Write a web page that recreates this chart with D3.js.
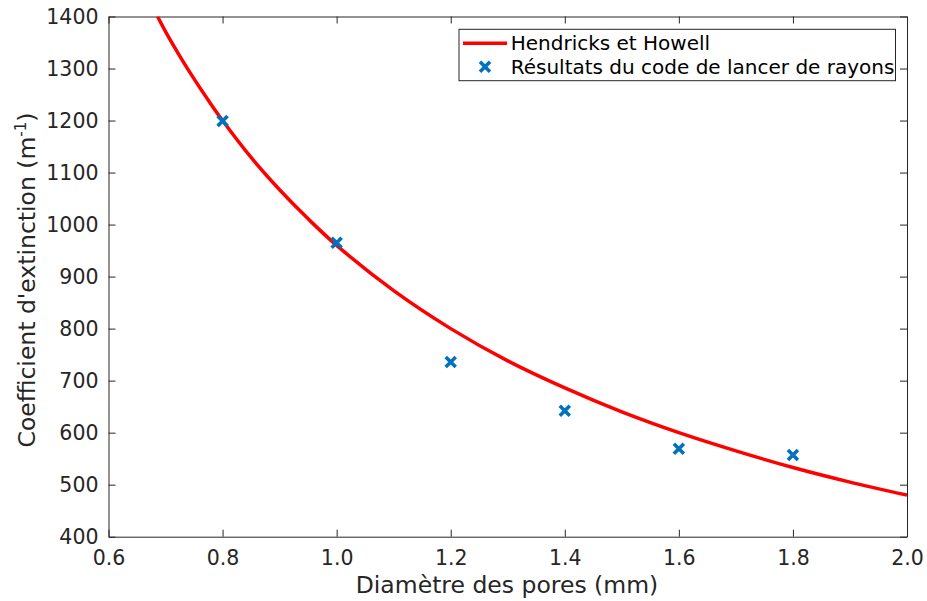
<!DOCTYPE html>
<html><head><meta charset="utf-8">
<script src="https://cdn.jsdelivr.net/npm/d3@7"></script>
<style>body{margin:0;background:#fff;} svg{display:block;font-family:"DejaVu Sans",sans-serif;}</style>
</head><body>
<svg id="c" width="927" height="601"></svg>
<script>
// Data
const curveD    = [0.686, 0.70, 0.725, 0.75, 0.775, 0.80, 0.85, 0.90, 0.95, 1.00, 1.10, 1.20, 1.30, 1.40, 1.50, 1.60, 1.70, 1.80, 1.90, 2.00];
const curveBeta = [1400, 1371, 1324, 1280, 1239, 1200, 1129, 1067, 1011, 960, 873, 800, 738, 686, 640, 600, 565, 533, 505, 480];
const ptsD      = [0.8, 1.0, 1.2, 1.4, 1.6, 1.8];
const ptsBeta   = [1199, 965, 736, 642, 569, 557];
const xTicks    = [0.6, 0.8, 1.0, 1.2, 1.4, 1.6, 1.8, 2.0];
const yTicks    = [400, 500, 600, 700, 800, 900, 1000, 1100, 1200, 1300, 1400];
const seriesNames = ["Hendricks et Howell", "Résultats du code de lancer de rayons"];

const svg = d3.select("#c");
const L = 108.5, R = 907, T = 16.5, B = 536.7;
const x = d3.scaleLinear().domain([0.6, 2.0]).range([L, R]);
const y = d3.scaleLinear().domain([400, 1400]).range([B, T]);
const axisCol = "#262626";

svg.append("defs").append("clipPath").attr("id","clip")
  .append("rect").attr("x",L).attr("y",T).attr("width",R-L).attr("height",B-T);

const tl = 7;
const gx = svg.append("g").attr("transform",`translate(0,${B})`)
  .call(d3.axisBottom(x).tickValues(xTicks).tickFormat(d3.format(".1f")).tickSizeInner(-tl).tickSizeOuter(0).tickPadding(14));
const gxt = svg.append("g").attr("transform",`translate(0,${T})`)
  .call(d3.axisTop(x).tickValues(xTicks).tickFormat("").tickSizeInner(-tl).tickSizeOuter(0));
const gy = svg.append("g").attr("transform",`translate(${L},0)`)
  .call(d3.axisLeft(y).tickValues(yTicks).tickFormat(d3.format("d")).tickSizeInner(-tl).tickSizeOuter(0).tickPadding(10));
const gyr = svg.append("g").attr("transform",`translate(${R},0)`)
  .call(d3.axisRight(y).tickValues(yTicks).tickFormat("").tickSizeInner(-tl).tickSizeOuter(0));
[gx,gxt,gy,gyr].forEach(g=>{
  g.select(".domain").attr("stroke",axisCol).attr("stroke-width",1);
  g.selectAll(".tick line").attr("stroke",axisCol).attr("stroke-width",1);
  g.selectAll(".tick text").attr("fill",axisCol).attr("font-size",20.5).attr("font-family","DejaVu Sans");
});

const line = d3.line().x((d,i)=>x(curveD[i])).y((d,i)=>y(curveBeta[i])).curve(d3.curveCatmullRom);
svg.append("path").datum(curveBeta).attr("clip-path","url(#clip)")
  .attr("d", line).attr("fill","none").attr("stroke","#ff0000").attr("stroke-width",3.5);

const mk = 5;
function cross(g, cx, cy){
  g.append("path").attr("d",`M${cx-mk},${cy-mk}L${cx+mk},${cy+mk}M${cx-mk},${cy+mk}L${cx+mk},${cy-mk}`)
   .attr("stroke","#0072BD").attr("stroke-width",3.6).attr("fill","none");
}
const gm = svg.append("g");
ptsD.forEach((d,i)=>cross(gm, x(d), y(ptsBeta[i])));

const lg = svg.append("g");
lg.append("rect").attr("x",459).attr("y",29.3).attr("width",436.5).attr("height",51.4)
  .attr("fill","#fff").attr("stroke",axisCol).attr("stroke-width",1);
lg.append("line").attr("x1",463).attr("x2",507).attr("y1",43.3).attr("y2",43.3)
  .attr("stroke","#ff0000").attr("stroke-width",3.5);
cross(lg, 485, 66.7);
lg.append("text").attr("x",510.7).attr("y",43.3).attr("dy","0.35em").attr("font-size",20).attr("fill","#000").text(seriesNames[0]);
lg.append("text").attr("x",510.7).attr("y",66.7).attr("dy","0.35em").attr("font-size",20).attr("fill","#000").text(seriesNames[1]);

svg.append("text").attr("x",507).attr("y",593).attr("text-anchor","middle")
  .attr("font-size",23.5).attr("fill",axisCol).text("Diamètre des pores (mm)");
const yl = svg.append("text").attr("transform",`translate(35,${280}) rotate(-90)`).attr("text-anchor","middle")
  .attr("font-size",23.5).attr("fill",axisCol);
yl.append("tspan").text("Coefficient d'extinction (m");
yl.append("tspan").attr("font-size",15).attr("dy",-9).text("-1");
yl.append("tspan").attr("dy",9).text(")");
</script>
</body></html>
